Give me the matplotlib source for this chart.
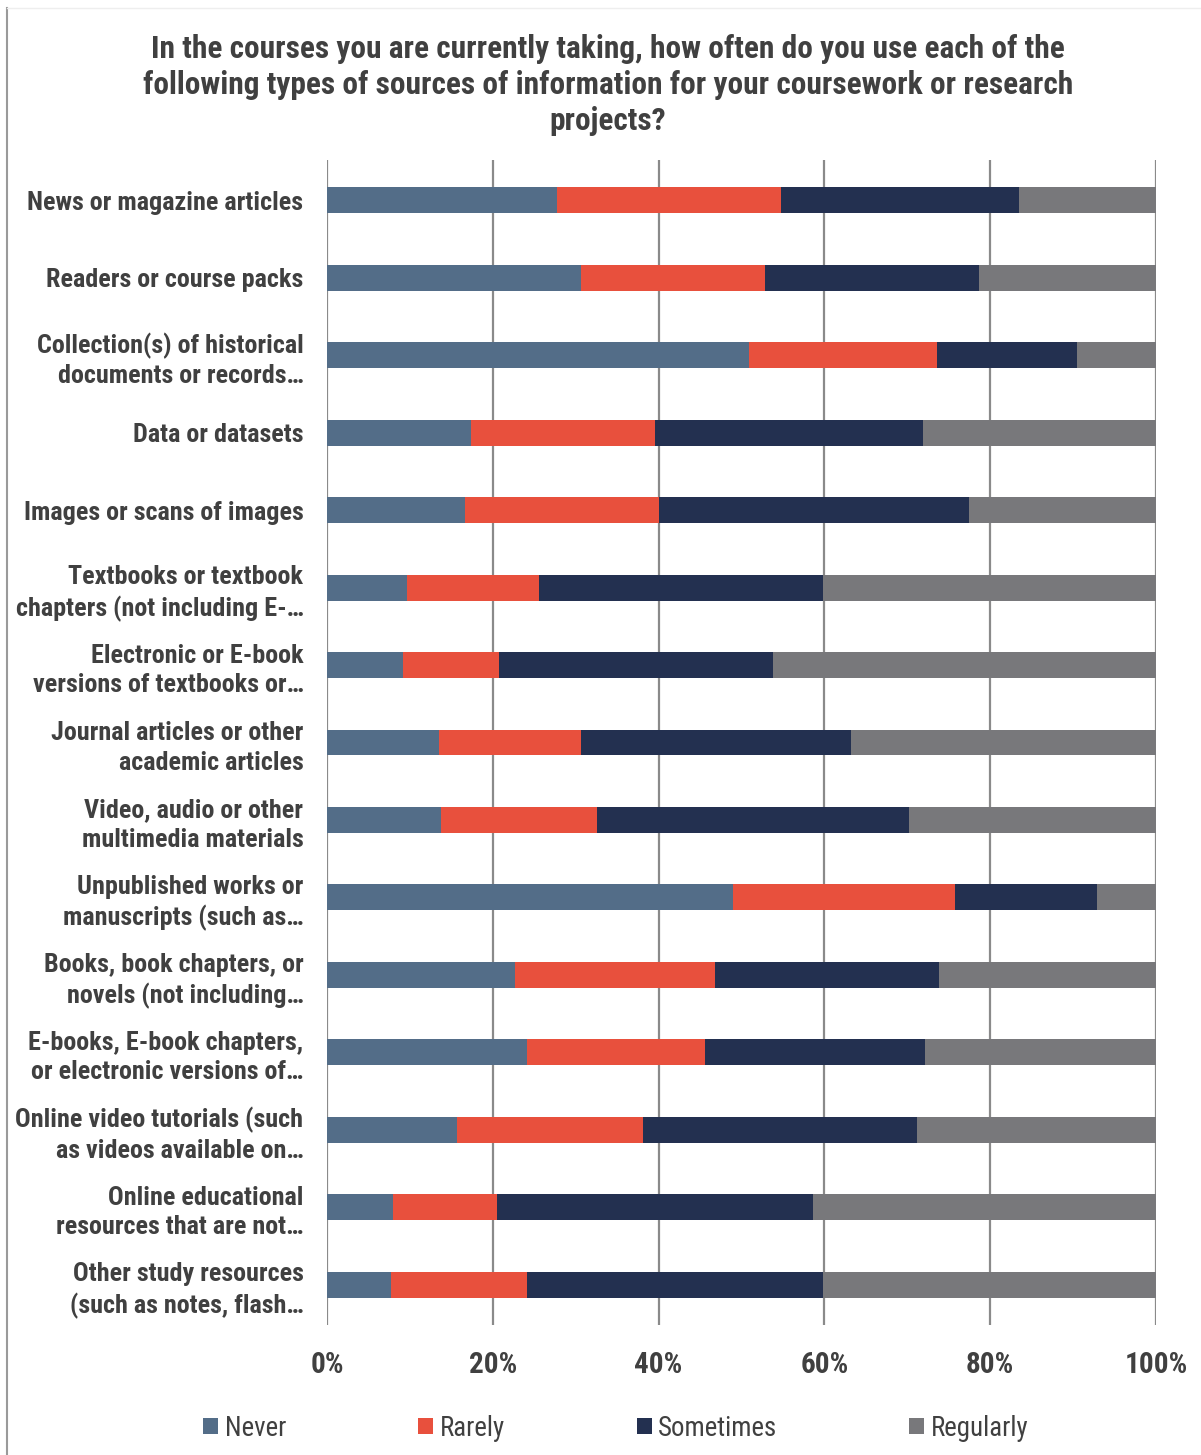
import matplotlib
matplotlib.use("Agg")
import matplotlib.pyplot as plt
from matplotlib import font_manager
from matplotlib.font_manager import FontProperties
from matplotlib.patches import Patch
from matplotlib.lines import Line2D
import numpy as np

categories = [
    "News or magazine articles",
    "Readers or course packs",
    "Collection(s) of historical\ndocuments or records…",
    "Data or datasets",
    "Images or scans of images",
    "Textbooks or textbook\nchapters (not including E-…",
    "Electronic or E-book\nversions of textbooks or…",
    "Journal articles or other\nacademic articles",
    "Video, audio or other\nmultimedia materials",
    "Unpublished works or\nmanuscripts (such as…",
    "Books, book chapters, or\nnovels (not including…",
    "E-books, E-book chapters,\nor electronic versions of…",
    "Online video tutorials (such\nas videos available on…",
    "Online educational\nresources that are not…",
    "Other study resources\n(such as notes, flash…",
]
never = [27.7, 30.6, 50.9, 17.4, 16.6, 9.7, 9.2, 13.5, 13.8, 49.0, 22.7, 24.1, 15.7, 8.0, 7.7]
rarely = [27.1, 22.2, 22.7, 22.2, 23.4, 15.9, 11.5, 17.1, 18.8, 26.8, 24.1, 21.5, 22.4, 12.5, 16.4]
sometimes = [28.7, 25.8, 16.9, 32.3, 37.4, 34.2, 33.1, 32.6, 37.6, 17.1, 27.0, 26.5, 33.1, 38.1, 35.7]
regularly = [16.5, 21.4, 9.5, 28.1, 22.6, 40.2, 46.2, 36.8, 29.8, 7.1, 26.2, 27.9, 28.8, 41.4, 40.2]
series_names = ["Never", "Rarely", "Sometimes", "Regularly"]
colors = ["#536d88", "#e8503d", "#233050", "#78787b"]
xticks = [0, 20, 40, 60, 80, 100]
title = ("In the courses you are currently taking, how often do you use each of the\n"
         "following types of sources of information for your coursework or research\n"
         "projects?")

# pick a condensed / narrow font if one exists
def find_font(bold):
    prefs = ["LiberationSansNarrow-Bold" if bold else "LiberationSansNarrow-Regular",
             "RobotoCondensed-Bold" if bold else "RobotoCondensed-Regular",
             "DejaVuSansCondensed-Bold" if bold else "DejaVuSansCondensed.",
             "OpenSans_Condensed-Bold" if bold else "OpenSans_Condensed-Regular"]
    files = [f.fname for f in font_manager.fontManager.ttflist]
    for p in prefs:
        for f in files:
            if p.lower() in f.replace("\\", "/").split("/")[-1].lower():
                return FontProperties(fname=f)
    return FontProperties(family="Liberation Sans", weight="bold" if bold else "normal")

FB = find_font(True)
FR = find_font(False)

W, H = 1201, 1455
fig = plt.figure(figsize=(W / 100, H / 100), dpi=100)
ax = fig.add_axes([327 / W, 1 - 1325 / H, (1156 - 327) / W, (1325 - 160) / H])

y = np.arange(len(categories))
left = np.zeros(len(categories))
for vals, c, n in zip([never, rarely, sometimes, regularly], colors, series_names):
    ax.barh(y, vals, left=left, height=0.335, color=c, label=n, zorder=3)
    left += np.array(vals)

ax.set_xlim(0, 100)
ax.set_ylim(len(categories) - 0.48, -0.52)
ax.set_yticks(y)
ax.set_xticks(xticks)
ax.tick_params(axis="y", length=0, pad=17)
ax.tick_params(axis="x", length=0, pad=18.5)
for s in ax.spines.values():
    s.set_visible(False)
ax.grid(axis="x", color="#8a8a8a", linewidth=1.6, zorder=0)
ax.set_axisbelow(True)

renderer = fig.canvas.get_renderer()

def fit_size(line, fp, target_px, start=16):
    t = fig.text(0, 0, line, fontproperties=fp)
    t.set_fontsize(start)
    w = t.get_window_extent(renderer).width
    t.remove()
    return min(30, start * target_px / w)

def line_gap(fp, size):
    t = fig.text(0, 0, "Ag\nAg", fontproperties=fp, linespacing=1.0)
    t.set_fontsize(size)
    h2 = t.get_window_extent(renderer).height
    t.set_text("Ag")
    h1 = t.get_window_extent(renderer).height
    t.remove()
    return h2 - h1

lab_size = fit_size("Online video tutorials (such", FB, 288)
tick_size = fit_size("100%", FB, 63)
title_size = fit_size("In the courses you are currently taking, how often do you use each of the", FB, 910)
leg_size = fit_size("Sometimes", FR, 120)

ax.set_yticklabels(categories, fontproperties=FB, fontsize=lab_size,
                   color="#404040", linespacing=31 / line_gap(FB, lab_size))
ax.set_xticklabels([f"{v}%" for v in xticks], fontproperties=FB,
                   fontsize=tick_size, color="#404040")

fig.text(608 / W, 1 - 85 / H, title, ha="center", va="center", fontproperties=FB,
         fontsize=title_size, color="#404040",
         linespacing=37 / line_gap(FB, title_size))

handles = [Patch(facecolor=c, edgecolor="none") for c in colors]
lp = FR.copy()
lp.set_size(leg_size)
fig.legend(handles, series_names, loc="center", bbox_to_anchor=(616 / W, 1 - 1428 / H),
           ncol=4, frameon=False, prop=lp,
           labelcolor="#404040", handlelength=0.55, handleheight=0.55,
           handletextpad=0.25, columnspacing=132 / (leg_size * 1.389))

fig.add_artist(Line2D([7 / W, 7 / W], [0, 1 - 8 / H], transform=fig.transFigure,
                      color="#9a9a9a", linewidth=1.5))
fig.add_artist(Line2D([7 / W, 1], [1 - 8 / H, 1 - 8 / H], transform=fig.transFigure,
                      color="#eeeeee", linewidth=1))

fig.savefig("out.png", dpi=100)
